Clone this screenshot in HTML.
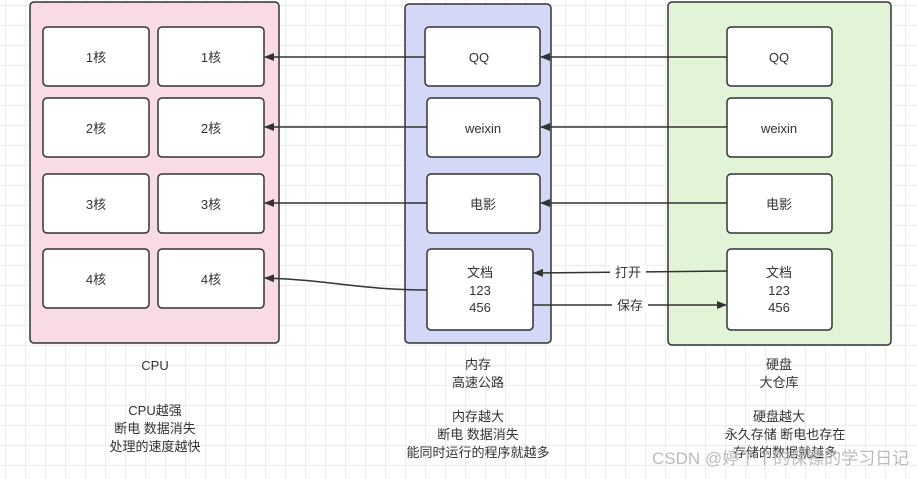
<!DOCTYPE html>
<html><head><meta charset="utf-8"><style>
body{margin:0;width:917px;height:474px;overflow:hidden;background:#fff;
background-image:linear-gradient(#ececec 1px,transparent 1px),linear-gradient(90deg,#ececec 1px,transparent 1px);background-size:20px 20px;background-position:5px 5px;}
svg text{font-family:"Liberation Sans","Noto Sans CJK SC",sans-serif;font-size:13px;fill:#333;text-anchor:middle}
</style></head><body>
<svg width="917" height="474" xmlns="http://www.w3.org/2000/svg">
<defs><marker id="a" markerWidth="10" markerHeight="8" refX="9" refY="4" orient="auto" markerUnits="userSpaceOnUse"><path d="M0,0L10,4L0,8z" fill="#333"/></marker></defs>
<g stroke="#333" stroke-width="1.5">
<rect x="30" y="2" width="249" height="341" rx="4" fill="#f9dbe6"/>
<rect x="405" y="4" width="146" height="339" rx="4" fill="#d3d8f6"/>
<rect x="668" y="2" width="223" height="343" rx="4" fill="#e2f4d8"/>
<g fill="#fff">
<rect x="43" y="27" width="106" height="59" rx="4"/><rect x="158" y="27" width="106" height="59" rx="4"/>
<rect x="43" y="98" width="106" height="59" rx="4"/><rect x="158" y="98" width="106" height="59" rx="4"/>
<rect x="43" y="174" width="106" height="59" rx="4"/><rect x="158" y="174" width="106" height="59" rx="4"/>
<rect x="43" y="249" width="106" height="59" rx="4"/><rect x="158" y="249" width="106" height="59" rx="4"/>
<rect x="425" y="27" width="115" height="59" rx="4"/><rect x="427" y="98" width="113" height="59" rx="4"/>
<rect x="427" y="174" width="113" height="59" rx="4"/><rect x="427" y="249" width="106" height="81" rx="4"/>
<rect x="727" y="27" width="105" height="59" rx="4"/><rect x="727" y="98" width="105" height="59" rx="4"/>
<rect x="727" y="174" width="105" height="59" rx="4"/><rect x="727" y="249" width="105" height="81" rx="4"/>
</g>
<g fill="none" marker-end="url(#a)">
<path d="M425,57H265"/><path d="M427,127H265"/><path d="M427,203H265"/>
<path d="M427,290C360,290 330,280 265,278"/>
<path d="M727,57H541"/><path d="M727,127H541"/><path d="M727,203H541"/>
<path d="M727,271L534,273"/><path d="M533,305H726"/>
</g></g>
<rect x="610" y="264" width="36" height="16" fill="#fff"/><rect x="612" y="297" width="36" height="16" fill="#fff"/>
<text x="628" y="277">打开</text><text x="630" y="310">保存</text>
<text x="96" y="62">1核</text><text x="211" y="62">1核</text>
<text x="96" y="133">2核</text><text x="211" y="133">2核</text>
<text x="96" y="209">3核</text><text x="211" y="209">3核</text>
<text x="96" y="284">4核</text><text x="211" y="284">4核</text>
<text x="479" y="62">QQ</text><text x="483" y="133">weixin</text><text x="483" y="209">电影</text>
<text x="480" y="277">文档</text><text x="480" y="295">123</text><text x="480" y="312">456</text>
<text x="779" y="62">QQ</text><text x="779" y="133">weixin</text><text x="779" y="209">电影</text>
<text x="779" y="277">文档</text><text x="779" y="295">123</text><text x="779" y="312">456</text>
<text x="155" y="370">CPU</text>
<text x="155" y="415">CPU越强</text><text x="155" y="433">断电 数据消失</text><text x="155" y="451">处理的速度越快</text>
<text x="478" y="369">内存</text><text x="478" y="387">高速公路</text>
<text x="478" y="421">内存越大</text><text x="478" y="439">断电 数据消失</text><text x="478" y="457">能同时运行的程序就越多</text>
<text x="779" y="369">硬盘</text><text x="779" y="387">大仓库</text>
<text x="779" y="421">硬盘越大</text><text x="785" y="439">永久存储 断电也存在</text><text x="785" y="457">存储的数据就越多</text>
<text x="652" y="464" style="font-size:17px;fill:#bbb;text-anchor:start">CSDN @婷丫丫的保镖的学习日记</text>
</svg>
</body></html>
